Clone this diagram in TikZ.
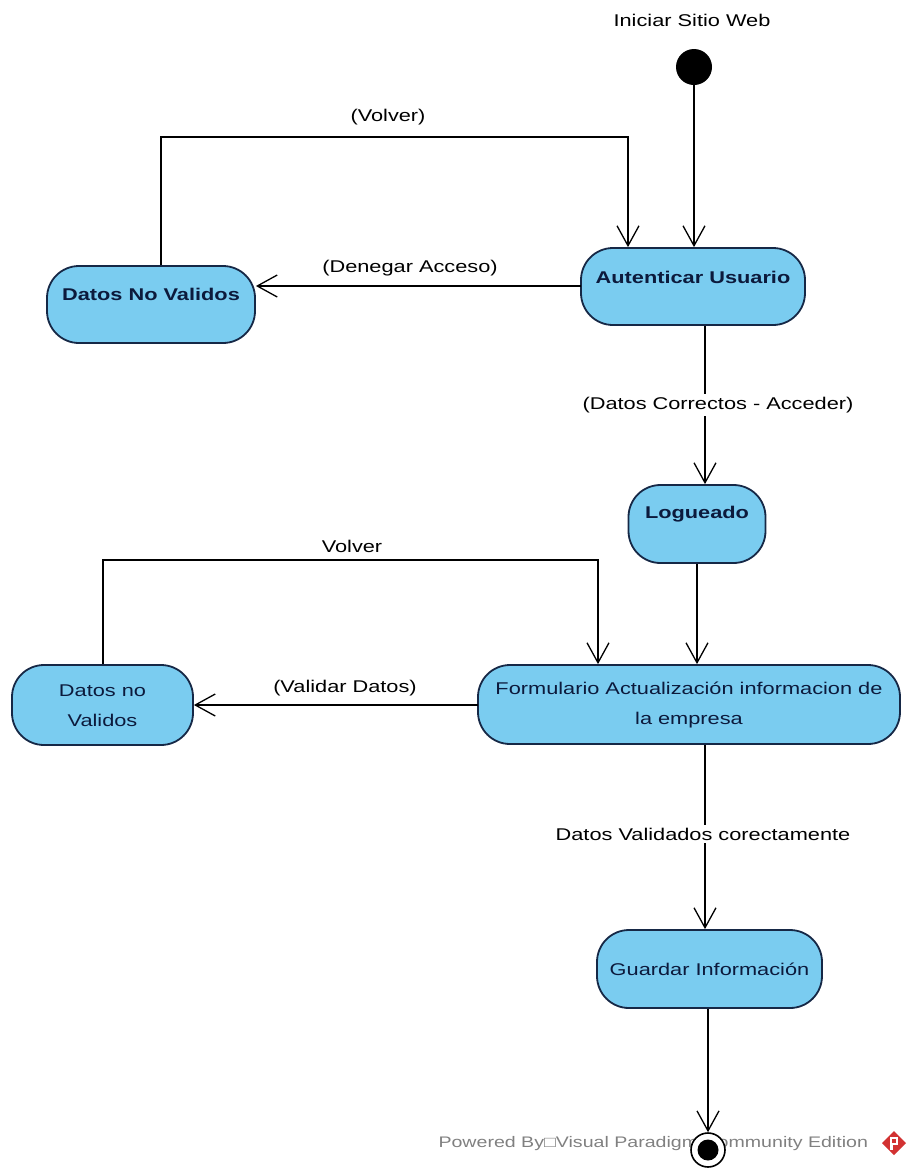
\documentclass[tikz,border=0pt]{standalone}
\usepackage{fontspec}
\setmainfont{Liberation Sans}[FakeStretch=1.28]
\usetikzlibrary{arrows.meta}
\definecolor{actfill}{RGB}{122,204,240}
\definecolor{actline}{RGB}{22,40,70}
\definecolor{acttext}{RGB}{12,26,60}
\definecolor{wmgray}{RGB}{128,128,128}
\definecolor{vpred}{RGB}{210,50,50}
\begin{document}
\begin{tikzpicture}[x=1pt,y=-1pt,
  font=\fontsize{17}{30}\selectfont,
  action/.style={draw=actline,fill=actfill,line width=1.8pt,rounded corners=32pt,
    rectangle,inner sep=0pt},
  acttxt/.style={text=acttext,align=center,inner sep=0pt},
  flow/.style={draw=black,line width=1.3pt,-{Straight Barb[length=20pt,width=22pt,line width=1.3pt]}},
  lbl/.style={inner sep=1pt},
  lblbg/.style={fill=white,inner sep=3pt}]
\useasboundingbox (0,0) rectangle (912,1168);

% initial state
\node (title) at (692,20) {Iniciar Sitio Web};
\node[circle,fill=black,minimum size=36pt,inner sep=0pt] (start) at (694,67) {};

% actions
\node[action,minimum width=224pt,minimum height=77pt] (aut) at (693,286.5) {};
\node[acttxt,font=\fontsize{17}{30}\selectfont\bfseries] (auttxt) at (693,277) {Autenticar Usuario};

\node[action,minimum width=208pt,minimum height=77pt] (dnv1) at (151,304.5) {};
\node[acttxt,font=\fontsize{17}{30}\selectfont\bfseries] (dnv1txt) at (151,294) {Datos No Validos};

\node[action,minimum width=137pt,minimum height=78pt] (log) at (697,524) {};
\node[acttxt,font=\fontsize{17}{30}\selectfont\bfseries] (logtxt) at (697,514) {Logueado};

\node[action,minimum width=422pt,minimum height=79pt] (form) at (689,704.5) {};
\node[acttxt] (formtxt) at (689,705) {Formulario Actualización informacion de\\la empresa};

\node[action,minimum width=181pt,minimum height=80pt] (dnv2) at (102.5,705) {};
\node[acttxt] (dnv2txt) at (102.5,706) {Datos no\\Validos};

\node[action,minimum width=225pt,minimum height=78pt] (guard) at (709.5,969) {};
\node[acttxt] (guardtxt) at (709.5,969) {Guardar Información};

% watermark (drawn below the final state)
\node[text=wmgray,anchor=west,font=\fontsize{15.3}{20}\selectfont] (wm) at (435,1144) {Powered By□Visual Paradigm Community Edition};
\fill[vpred] (894,1131) -- (906,1143) -- (894,1155) -- (882,1143) -- cycle;
\fill[white] (890,1137) rectangle (898,1145);
\fill[vpred] (892,1139) rectangle (896,1143);
\fill[white] (890,1145) rectangle (893,1150);

% final state
\node[circle,draw=black,fill=white,line width=1.6pt,minimum size=34pt,inner sep=0pt] (end) at (708,1150) {};
\node[circle,fill=black,minimum size=21pt,inner sep=0pt] (endin) at (end.center) {};

% connectors
\draw[flow] (start.south) -- (start.south |- aut.north);

\coordinate (v1a) at (161,137);
\coordinate (v1b) at (628,137);
\draw[flow] (dnv1.north -| v1a) -- (v1a) -- (v1b) -- (aut.north -| v1b);
\node[lbl] (l1) at (388,117) {(Volver)};

\coordinate (d1) at (581,286);
\draw[flow] (d1) -- (d1 -| dnv1.east);
\node[lbl] (l2) at (410,268) {(Denegar Acceso)};

\coordinate (c1) at (705,0);
\draw[flow] (aut.south -| c1) -- (log.north -| c1);
\node[lblbg] (l3) at (718,405) {(Datos Correctos - Acceder)};

\draw[flow] (log.south) -- (log.south |- form.north);

\coordinate (v2a) at (103,560);
\coordinate (v2b) at (598,560);
\draw[flow] (dnv2.north -| v2a) -- (v2a) -- (v2b) -- (form.north -| v2b);
\node[lbl] (l4) at (352,546) {Volver};

\coordinate (d2) at (478,705);
\draw[flow] (d2) -- (d2 -| dnv2.east);
\node[lbl] (l5) at (345,688) {(Validar Datos)};

\draw[flow] (form.south -| c1) -- (guard.north -| c1);
\node[lblbg] (l6) at (703,834) {Datos Validados corectamente};

\draw[flow] (guard.south -| end) -- (end.north);
\end{tikzpicture}
\end{document}
